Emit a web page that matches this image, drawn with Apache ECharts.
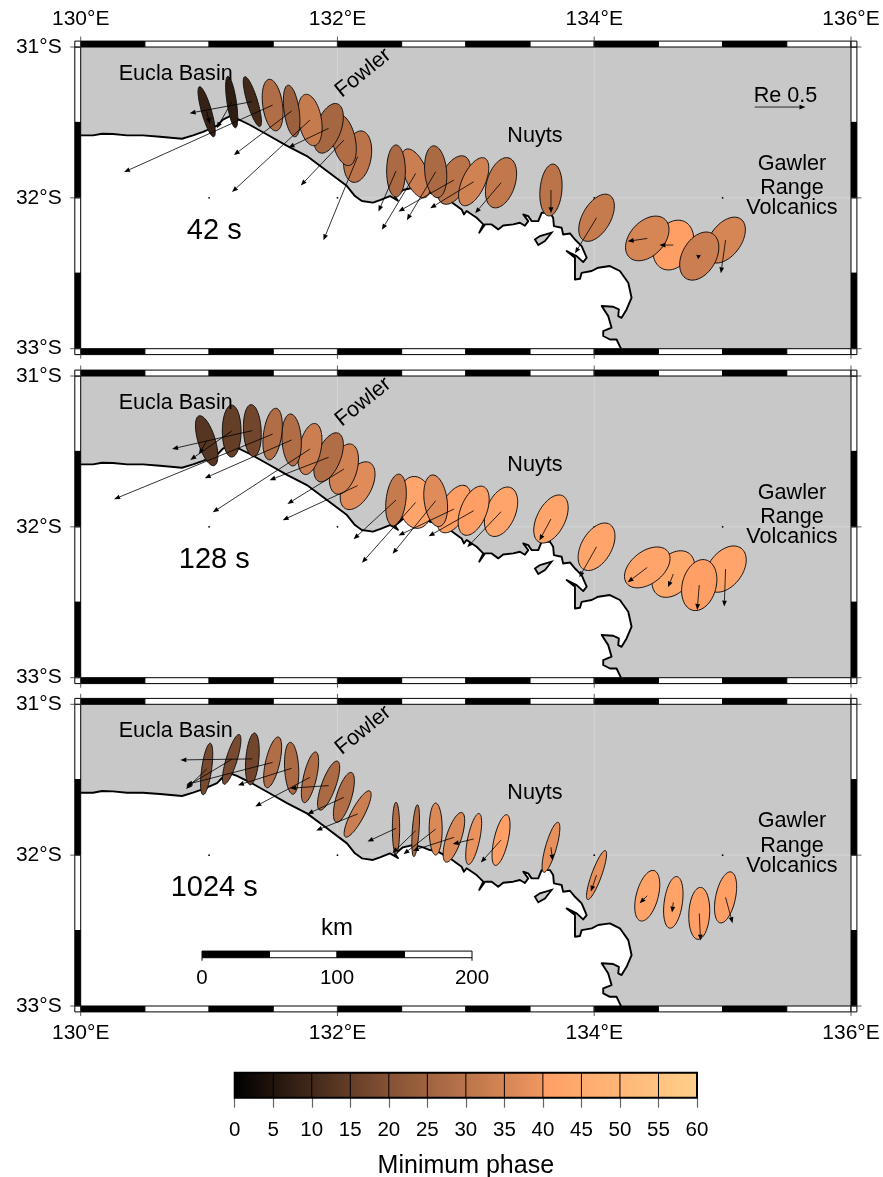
<!DOCTYPE html>
<html><head><meta charset="utf-8">
<style>html,body{margin:0;padding:0;background:#fff}#c{width:883px;height:1177px}</style>
<script src="https://cdn.jsdelivr.net/npm/echarts@6/dist/echarts.min.js"></script>
</head><body><div id="c"></div>
<script>
// stations (lon E, lat S)
const stationLon=[130.981,131.176,131.337,131.495,131.643,131.786,131.931,132.050,132.157,132.456,132.609,132.765,132.907,133.061,133.274,133.663,134.018,134.413,134.616,134.818,135.023];
const stationLat=[31.429,31.365,31.362,31.385,31.424,31.484,31.539,31.617,31.727,31.822,31.838,31.827,31.882,31.893,31.900,31.948,32.132,32.269,32.313,32.386,32.280];
// ellipse tilt from north in degrees (east positive)
const tilt42=[-16,-8.5,-17,-8,-8,-10,20,-12,10,0,-22,-5,25,25,18,5,30,43,25,30,36];
const tilt128=[-17,0,-3,8,-3,12,22,17,28,7,-6,-8,28,22,22,27,30,52,38,15,37];
const tilt1024=[8,17,5,13,-3,13,20,17,28,0,4,0,18,12,13,16,20,15,8,3,12];
// minor / major axis ratio
const ratio42=[.19,.18,.20,.38,.29,.44,.48,.44,.52,.36,.44,.42,.52,.44,.54,.42,.54,.66,.73,.65,.60];
const ratio128=[.33,.36,.34,.35,.37,.42,.46,.50,.54,.38,.66,.44,.50,.50,.56,.54,.58,.62,.69,.65,.65];
const ratio1024=[.19,.21,.25,.27,.27,.25,.27,.29,.25,.14,.13,.25,.29,.23,.27,.21,.19,.42,.35,.40,.38];
// minimum phase
const phase42=[8,7,10,28,24,32,26,28,30,27,33,27,30,34,31,30,32,35,40,33,35];
const phase128=[13,15,17,28,28,33,28,34,37,32,43,37,40,40,43,43,43,43,44,40,43];
const phase1024=[18,18,17,28,27,28,27,28,33,28,28,36,36,39,40,38,38,42,42,40,40];
// Re induction vector components (east, north)
const reU42=[.033,-.147,-.618,-1.464,-.569,-.768,-.395,-.425,-.337,-.173,-.333,-.284,-.546,-.428,-.255,0,-.212,-.193,-.137,.016,-.046];
const reV42=[-.121,-.258,-.114,-.660,-.435,-.709,-.190,-.448,-.824,-.399,-.556,-.477,-.310,-.261,-.301,-.229,-.350,-.029,0,.007,-.327];
const reU128=[-.075,-.408,-.791,-1.562,-.856,-.958,-.582,-.556,-.739,-.418,-.529,-.425,-.546,-.444,-.333,-.114,-.170,-.193,-.052,-.020,-.013];
const reV128=[-.134,-.284,-.180,-.641,-.376,-.624,-.225,-.343,-.340,-.386,-.595,-.523,-.261,-.252,-.350,-.212,-.301,-.147,-.131,-.245,-.369];
const reU1024=[-.203,-.448,-.709,-.850,-.529,-.539,-.379,-.359,-.408,-.281,-.229,-.317,-.405,-.206,-.199,.016,-.056,-.075,-.013,.013,.069];
const reV1024=[-.196,-.268,-.010,-.219,-.167,-.288,-.026,-.163,-.163,-.131,-.222,-.248,-.131,-.049,-.222,-.131,-.163,-.075,-.101,-.268,-.255];
// coastline (lon, lat S)
const coast=[[130,31.586],[130.096,31.586],[130.166,31.575],[130.252,31.577],[130.361,31.586],[130.485,31.586],[130.618,31.595],[130.789,31.608],[130.875,31.586],[130.953,31.562],[131.062,31.522],[131.108,31.482],[131.163,31.458],[131.217,31.475],[131.319,31.517],[131.451,31.580],[131.607,31.655],[131.762,31.723],[131.918,31.822],[132.074,31.922],[132.136,31.988],[132.190,32.021],[132.276,32.032],[132.331,32.015],[132.409,31.988],[132.471,32.019],[132.448,31.993],[132.510,31.948],[132.588,31.933],[132.666,31.948],[132.720,31.966],[132.783,31.977],[132.876,32.021],[132.967,32.077],[132.985,32.110],[133.006,32.087],[133.084,32.132],[133.136,32.176],[133.104,32.231],[133.149,32.176],[133.201,32.176],[133.252,32.209],[133.291,32.183],[133.369,32.176],[133.421,32.165],[133.460,32.185],[133.486,32.154],[133.447,32.110],[133.486,32.121],[133.512,32.154],[133.564,32.154],[133.590,32.099],[133.655,32.099],[133.680,32.132],[133.686,32.187],[133.746,32.198],[133.758,32.243],[133.811,32.236],[133.850,32.276],[133.902,32.320],[133.941,32.397],[133.914,32.426],[133.863,32.386],[133.785,32.353],[133.850,32.397],[133.850,32.541],[133.889,32.536],[133.902,32.497],[133.980,32.485],[134.031,32.463],[134.122,32.452],[134.200,32.485],[134.265,32.563],[134.291,32.662],[134.252,32.740],[134.213,32.795],[134.187,32.784],[134.192,32.740],[134.148,32.722],[134.058,32.717],[134.109,32.784],[134.135,32.861],[134.070,32.883],[134.070,32.916],[134.122,32.939],[134.174,32.939],[134.205,32.994],[134.21,33]];
const lagoon=[[133.538,32.276],[133.577,32.253],[133.668,32.231],[133.616,32.287],[133.564,32.313]];
const gridDots=[[131,32],[132,32],[134,32],[135,32]];
const gridLons=[132,134];
const gridLats=[32];
// annotations
const annoText=['Eucla Basin','Fowler','Nuyts','Gawler','Range','Volcanics'];
const annoLon=[130.74,132.20,133.538,135.54,135.54,135.54];
const annoLat=[31.178,31.172,31.587,31.777,31.937,32.070];
const periods=['42 s','128 s','1024 s'];
const periodLon=131.04, periodLat=32.22;
const frameLons=[130,130.5,131,131.5,132,132.5,133,133.5,134,134.5,135,135.5,136];
const frameLats=[31,31.5,32,32.5,33];
const lonTicks=[130,132,134,136];
const latTicks=[31,32,33];
const scaleKm=[0,50,100,150,200];
const scaleLabels=[0,100,200];
const cbTicks=[0,5,10,15,20,25,30,35,40,45,50,55,60];
const cbStops=[[0,[0,0,0]],[20,[133,82,52]],[39.9,[240,150,96]],[40,[255,158,101]],[60,[255,207,138]]];

const FONT='"Liberation Sans",Arial,Helvetica,sans-serif';
const LEFT=80.7,WIDTH=770.3,HEIGHT=301.7,TOPS=[47,376,704.3];
const MAJOR_DEG=.1724, U_LON=.7905, V_LAT=.673;
const drawOrder=[8,7,6,5,4,3,2,1,0,10,12,14,13,11,9,15,16,18,20,17,19];

function phaseColor(p){
  for(let i=1;i<cbStops.length;i++){
    if(p<=cbStops[i][0]){
      const a=cbStops[i-1],b=cbStops[i],t=(p-a[0])/(b[0]-a[0]);
      return 'rgb('+a[1].map((c,k)=>Math.round(c+(b[1][k]-c)*t)).join(',')+')';
    }
  }
  return 'rgb('+cbStops[cbStops.length-1][1].join(',')+')';
}
const one=[[130,31]];
const base=(extra)=>Object.assign({type:'custom',coordinateSystem:'cartesian2d',clip:false,silent:true,animation:false},extra);

function mapSeries(i,tilt,ratio,phase,u,v){
  const rows=drawOrder.map(k=>[stationLon[k],stationLat[k],tilt[k],ratio[k],phase[k]]);
  const arrows=stationLon.map((l,k)=>[l,stationLat[k],u[k],v[k]]);
  const out=[];
  const ax={xAxisIndex:i,yAxisIndex:i};
  // sea, grid lines, land, coast
  out.push(base(Object.assign({},ax,{z:1,data:one,renderItem(p,api){
    const c=q=>api.coord(q);
    const tl=c([130,31]),br=c([136,33]);
    const ch=[{type:'rect',shape:{x:tl[0],y:tl[1],width:br[0]-tl[0],height:br[1]-tl[1]},style:{fill:'#c8c8c8'}}];
    gridLons.forEach(l=>{const a=c([l,31]),b=c([l,33]);ch.push({type:'line',shape:{x1:a[0],y1:a[1],x2:b[0],y2:b[1]},style:{stroke:'#d6d6d6',lineWidth:.9}})});
    gridLats.forEach(l=>{const a=c([130,l]),b=c([136,l]);ch.push({type:'line',shape:{x1:a[0],y1:a[1],x2:b[0],y2:b[1]},style:{stroke:'#d6d6d6',lineWidth:.9}})});
    ch.push({type:'polygon',shape:{points:coast.concat([[130,33]]).map(c)},style:{fill:'#fff'}});
    ch.push({type:'polyline',shape:{points:coast.map(c)},style:{stroke:'#000',lineWidth:1.9,fill:null,lineJoin:'round'}});
    ch.push({type:'polygon',shape:{points:lagoon.map(c)},style:{fill:'#c8c8c8',stroke:'#000',lineWidth:1.8}});
    gridDots.forEach(d=>{const a=c(d);ch.push({type:'circle',shape:{cx:a[0],cy:a[1],r:.9},style:{fill:'#000'}})});
    return {type:'group',children:ch};
  }})));
  // ellipses
  out.push(base(Object.assign({},ax,{z:2,name:periods[i],data:rows,renderItem(p,api){
    const ctr=api.coord([api.value(0),api.value(1)]);
    const A=api.size([0,MAJOR_DEG])[1],B=A*api.value(3),th=api.value(2)*Math.PI/180;
    const pts=[];
    for(let n=0;n<72;n++){
      const t=n/72*2*Math.PI,x=B*Math.cos(t),y=-A*Math.sin(t);
      pts.push([ctr[0]+x*Math.cos(th)-y*Math.sin(th),ctr[1]+x*Math.sin(th)+y*Math.cos(th)]);
    }
    return {type:'polygon',shape:{points:pts},style:{fill:phaseColor(api.value(4)),stroke:'#111',lineWidth:1}};
  }})));
  // arrows
  out.push(base(Object.assign({},ax,{z:3,data:arrows,renderItem(p,api){
    const lo=api.value(0),la=api.value(1);
    return arrow(api.coord([lo,la]),api.coord([lo+api.value(2)*U_LON,la-api.value(3)*V_LAT]));
  }})));
  // labels
  out.push(base(Object.assign({},ax,{z:4,data:one,renderItem(p,api){
    const ch=[];
    annoText.forEach((t,k)=>{const a=api.coord([annoLon[k],annoLat[k]]);
      ch.push({type:'text',x:a[0],y:a[1],rotation:t==='Fowler'?39*Math.PI/180:0,style:{text:t,fill:'#000',fontSize:21.6,fontFamily:FONT,textAlign:'center',textVerticalAlign:'middle'}});});
    const q=api.coord([periodLon,periodLat]);
    ch.push({type:'text',x:q[0],y:q[1],style:{text:periods[i],fill:'#000',fontSize:29,fontFamily:FONT,textAlign:'center',textVerticalAlign:'middle'}});
    if(i===0){
      const r=api.coord([135.49,31.326]);
      ch.push({type:'text',x:r[0],y:r[1],style:{text:'Re 0.5',fill:'#000',fontSize:21.6,fontFamily:FONT,textAlign:'center',textVerticalAlign:'middle'}});
      ch.push(arrow(api.coord([135.25,31.398]),api.coord([135.25+.5*U_LON,31.398])));
    }
    if(i===2){
      const lonOf=km=>130.945+km/200*2.103;
      const k=api.coord([lonOf(100),32.483]);
      ch.push({type:'text',x:k[0],y:k[1],style:{text:'km',fill:'#000',fontSize:24,fontFamily:FONT,textAlign:'center',textVerticalAlign:'middle'}});
      scaleKm.slice(0,-1).forEach((km,n)=>{
        const a=api.coord([lonOf(km),32.636]),b=api.coord([lonOf(scaleKm[n+1]),32.68]);
        ch.push({type:'rect',shape:{x:a[0],y:a[1],width:b[0]-a[0],height:b[1]-a[1]},style:{fill:n%2?'#fff':'#000',stroke:'#000',lineWidth:1}});
      });
      [0,200].forEach(km=>{const a=api.coord([lonOf(km),32.68]);
        ch.push({type:'line',shape:{x1:a[0],y1:a[1],x2:a[0],y2:a[1]+3},style:{stroke:'#000',lineWidth:1}});});
      scaleLabels.forEach(km=>{const a=api.coord([lonOf(km),32.815]);
        ch.push({type:'text',x:a[0],y:a[1],style:{text:String(km),fill:'#000',fontSize:20.5,fontFamily:FONT,textAlign:'center',textVerticalAlign:'middle'}});});
    }
    return {type:'group',children:ch};
  }})));
  // frame
  out.push(base(Object.assign({},ax,{z:5,data:one,renderItem(p,api){
    const c=q=>api.coord(q),ch=[],T=5.9;
    const tl=c([130,31]),br=c([136,33]);
    const rect=(x,y,w,h,f)=>ch.push({type:'rect',shape:{x,y,width:w,height:h},style:{fill:f,stroke:'#000',lineWidth:1}});
    frameLons.slice(0,-1).forEach((l,n)=>{
      const a=c([l,31])[0],b=c([frameLons[n+1],31])[0],f=n%2?'#fff':'#000';
      rect(a,tl[1]-T,b-a,T,f);rect(a,br[1],b-a,T,f);
    });
    frameLats.slice(0,-1).forEach((l,n)=>{
      const a=c([130,l])[1],b=c([130,frameLats[n+1]])[1],f=n%2?'#000':'#fff';
      rect(tl[0]-T,a,T,b-a,f);rect(br[0],a,T,b-a,f);
    });
    [[tl[0]-T,tl[1]-T],[br[0],tl[1]-T],[tl[0]-T,br[1]],[br[0],br[1]]].forEach(q=>rect(q[0],q[1],T,T,'#fff'));
    const tick=(x1,y1,x2,y2)=>ch.push({type:'line',shape:{x1,y1,x2,y2},style:{stroke:'#333',lineWidth:.8}});
    lonTicks.forEach(l=>{const x=c([l,31])[0];tick(x,tl[1]-10.5,x,tl[1]);tick(x,br[1],x,br[1]+10);});
    latTicks.forEach(l=>{const y=c([130,l])[1];tick(tl[0]-10.5,y,tl[0],y);tick(br[0],y,br[0]+10.5,y);});
    return {type:'group',children:ch};
  }})));
  return out;
}
function arrow(s,e){
  const dx=e[0]-s[0],dy=e[1]-s[1],len=Math.hypot(dx,dy)||1,ux=dx/len,uy=dy/len,H=Math.min(6,Math.max(len,4)),W=2.4;
  const bx=e[0]-ux*H,by=e[1]-uy*H;
  return {type:'group',children:[
    {type:'line',shape:{x1:s[0],y1:s[1],x2:bx,y2:by},style:{stroke:'#000',lineWidth:.8}},
    {type:'polygon',shape:{points:[e,[bx-uy*W,by+ux*W],[bx+uy*W,by-ux*W]]},style:{fill:'#000'}}
  ]};
}
const grids=TOPS.map(t=>({left:LEFT,top:t,width:WIDTH,height:HEIGHT,outerBoundsMode:'none'}));
grids.push({left:234.7,top:1072.7,width:462.3,height:25,outerBoundsMode:'none'});
const xAxes=TOPS.map((t,i)=>({type:'value',gridIndex:i,min:130,max:136,interval:2,position:i===0?'top':'bottom',
  axisLine:{show:false},axisTick:{show:false},splitLine:{show:false},
  axisLabel:{show:i!==1,margin:17,color:'#000',fontSize:21,fontFamily:FONT,formatter:v=>v+'°E'}}));
xAxes.push({type:'value',gridIndex:3,min:0,max:60,interval:5,position:'bottom',
  axisLine:{show:false},axisTick:{show:true,length:10,lineStyle:{color:'#666',width:1.2}},splitLine:{show:false},
  axisLabel:{margin:22,color:'#000',fontSize:20.5,fontFamily:FONT},
  name:'Minimum phase',nameLocation:'middle',nameGap:56,nameTextStyle:{fontSize:25,fontFamily:FONT,color:'#000'}});
const yAxes=TOPS.map((t,i)=>({type:'value',gridIndex:i,min:31,max:33,interval:1,inverse:true,position:'left',
  axisLine:{show:false},axisTick:{show:false},splitLine:{show:false},
  axisLabel:{margin:19,color:'#000',fontSize:21,fontFamily:FONT,padding:[3,0,0,0],formatter:v=>v+'°S'}}));
yAxes.push({type:'value',gridIndex:3,min:0,max:1,show:false});

const series=[].concat(
  mapSeries(0,tilt42,ratio42,phase42,reU42,reV42),
  mapSeries(1,tilt128,ratio128,phase128,reU128,reV128),
  mapSeries(2,tilt1024,ratio1024,phase1024,reU1024,reV1024),
  [base({xAxisIndex:3,yAxisIndex:3,z:2,data:[[0,0]],renderItem(p,api){
    const a=api.coord([0,1]),b=api.coord([60,0]),ch=[];
    const stops=[];
    cbStops.forEach(s=>stops.push({offset:s[0]/60,color:'rgb('+s[1].join(',')+')'}));
    ch.push({type:'rect',shape:{x:a[0],y:a[1],width:b[0]-a[0],height:b[1]-a[1]},style:{fill:new echarts.graphic.LinearGradient(0,0,1,0,stops)}});
    cbTicks.slice(1,-1).forEach(t=>{const x=api.coord([t,0])[0];ch.push({type:'line',shape:{x1:x,y1:a[1],x2:x,y2:b[1]},style:{stroke:'#000',lineWidth:1}})});
    ch.push({type:'rect',shape:{x:a[0],y:a[1],width:b[0]-a[0],height:b[1]-a[1]},style:{fill:null,stroke:'#000',lineWidth:2}});
    return {type:'group',children:ch};
  }})]
);
const chart=echarts.init(document.getElementById('c'),null,{renderer:'canvas'});
chart.setOption({animation:false,backgroundColor:'#fff',tooltip:{show:false},grid:grids,xAxis:xAxes,yAxis:yAxes,series});
</script></body></html>
